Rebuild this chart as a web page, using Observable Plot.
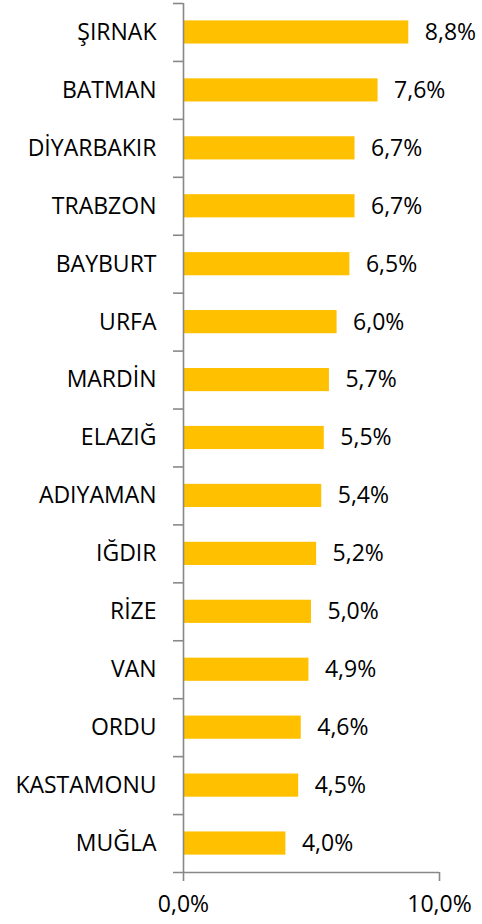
<!DOCTYPE html>
<html>
<head>
<meta charset="utf-8">
<script src="https://cdn.jsdelivr.net/npm/d3@7"></script>
<script src="https://cdn.jsdelivr.net/npm/@observablehq/plot@0.6"></script>
<style>
  html, body { margin: 0; padding: 0; background: #fff; }
</style>
</head>
<body>
<div id="chart"></div>
<script>
const provinces = ["ŞIRNAK","BATMAN","DİYARBAKIR","TRABZON","BAYBURT","URFA","MARDİN","ELAZIĞ","ADIYAMAN","IĞDIR","RİZE","VAN","ORDU","KASTAMONU","MUĞLA"];
const values = [8.8, 7.6, 6.7, 6.7, 6.5, 6.0, 5.7, 5.5, 5.4, 5.2, 5.0, 4.9, 4.6, 4.5, 4.0];
const xTicks = [0, 10];

const data = provinces.map((p, i) => ({province: p, value: values[i]}));
const fmt = v => v.toFixed(1).replace(".", ",") + "%";

const W = 482, H = 924, mT = 3, mB = 52, mL = 183, mR = 43;
const step = (H - mT - mB) / provinces.length;
const axisColor = "#888888";
const bar = "#FFC000";
const FS = 23;

const chart = Plot.plot({
  width: W, height: H,
  marginTop: mT, marginBottom: mB, marginLeft: mL, marginRight: mR,
  style: {fontFamily: "'Open Sans', sans-serif", fontSize: FS + "px", fontWeight: 400, color: "#000", background: "#fff", overflow: "visible"},
  x: {domain: [0, 10], axis: null, label: null},
  y: {domain: provinces, type: "band", paddingInner: 0.6, paddingOuter: 0.3, round: false, axis: null, label: null},
  marks: [
    Plot.barX(data, {x: "value", y: "province", fill: bar}),
    Plot.ruleX([0], {stroke: axisColor, strokeWidth: 1.6}),
    Plot.ruleY(provinces, {y: d => d, x1: -0.39, x2: 0, dy: -step / 2, stroke: axisColor, strokeWidth: 1.6}),
    Plot.ruleY([provinces[provinces.length - 1]], {y: d => d, x1: -0.39, x2: 10, dy: step / 2, stroke: axisColor, strokeWidth: 1.6}),
    Plot.axisX({ticks: xTicks, tickFormat: fmt, tickSize: 9, tickPadding: 14, stroke: axisColor, strokeWidth: 1.6, fill: "#000", fontSize: FS, label: null}),
    Plot.axisY({tickSize: 0, tickPadding: 27, fill: "#000", fontSize: FS, label: null}),
    Plot.text(data, {x: "value", y: "province", text: d => fmt(d.value), dx: 16, textAnchor: "start", fill: "#000", fontSize: FS})
  ]
});
document.getElementById("chart").append(chart);
</script>
</body>
</html>
